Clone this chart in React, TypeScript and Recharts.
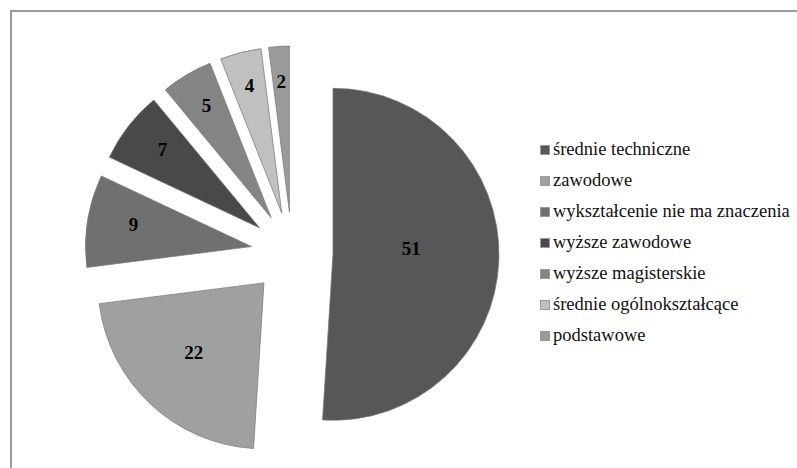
import { PieChart, Pie, Sector, Legend } from "recharts"

const categories = [
  "średnie techniczne",
  "zawodowe",
  "wykształcenie nie ma znaczenia",
  "wyższe zawodowe",
  "wyższe magisterskie",
  "średnie ogólnokształcące",
  "podstawowe",
]
const values = [51, 22, 9, 7, 5, 4, 2]
const colors = ["#575757", "#a0a0a0", "#707070", "#494949", "#848484", "#c0c0c0", "#9a9a9a"]

const data = categories.map((name, i) => ({ name, value: values[i], fill: colors[i] }))

const RAD = Math.PI / 180
const EXPLODE = 41
const SERIF = "'Liberation Serif', 'Times New Roman', serif"

const shift = (midAngle: number, d: number) => ({
  dx: d * Math.cos(-midAngle * RAD),
  dy: d * Math.sin(-midAngle * RAD),
})

const ExplodedSector = (props: any) => {
  const { dx, dy } = shift(props.midAngle, EXPLODE)
  return <Sector {...props} cx={props.cx + dx} cy={props.cy + dy} />
}

// "best fit"-like label placement: bigger slices get labels nearer the tip
const renderLabel = (props: any) => {
  const { cx, cy, midAngle, outerRadius, value, percent } = props
  const { dx, dy } = shift(midAngle, EXPLODE)
  const f = Math.min(0.78, 0.9 - 0.6 * Math.sqrt(percent))
  const p = shift(midAngle, outerRadius * f)
  return (
    <text
      x={cx + dx + p.dx}
      y={cy + dy + p.dy - 12 * Math.sqrt(percent)}
      textAnchor="middle"
      dominantBaseline="central"
      fill="#000"
      fontFamily={SERIF}
      fontWeight="bold"
      fontSize={19}
    >
      {value}
    </text>
  )
}

const renderLegend = (props: any) => {
  const items = [...(props.payload || [])].sort(
    (a: any, b: any) => categories.indexOf(a.value) - categories.indexOf(b.value)
  )
  return (
    <ul style={{ margin: 0, padding: 0, listStyle: "none", fontFamily: SERIF }}>
      {items.map((entry: any) => (
        <li
          key={entry.value}
          style={{ height: 31, display: "flex", alignItems: "center", whiteSpace: "nowrap" }}
        >
          <span
            style={{
              display: "inline-block",
              width: 10,
              height: 10,
              background: entry.color,
              border: "1px solid #9a9a9a",
              boxSizing: "border-box",
              marginRight: 3,
            }}
          />
          <span style={{ fontFamily: SERIF, fontSize: 18.5, color: "#111" }}>{entry.value}</span>
        </li>
      ))}
    </ul>
  )
}

export default function App() {
  return (
    <div style={{ position: "fixed", left: 0, top: 0, width: 797, height: 468, overflow: "hidden", background: "#fff" }}>
      <div
        style={{
          position: "absolute",
          left: 10,
          top: 10,
          width: 900,
          height: 600,
          border: "2px solid #9a9a9a",
          boxSizing: "border-box",
        }}
      />
      <div style={{ position: "absolute", left: 0, top: 0 }}>
        <PieChart width={797} height={468} margin={{ top: 0, right: 0, bottom: 0, left: 0 }}>
          <Pie
            data={data}
            dataKey="value"
            nameKey="name"
            cx={292}
            cy={253}
            outerRadius={166}
            startAngle={90}
            endAngle={-270}
            stroke="#7a7a7a"
            strokeWidth={0.75}
            shape={ExplodedSector}
            label={renderLabel}
            labelLine={false}
            isAnimationActive={false}
          />
          <Legend
            layout="vertical"
            align="right"
            verticalAlign="top"
            itemSorter={null as any}
            content={renderLegend}
            wrapperStyle={{ left: 540, top: 134, width: 257, fontFamily: SERIF }}
          />
        </PieChart>
      </div>
    </div>
  )
}
